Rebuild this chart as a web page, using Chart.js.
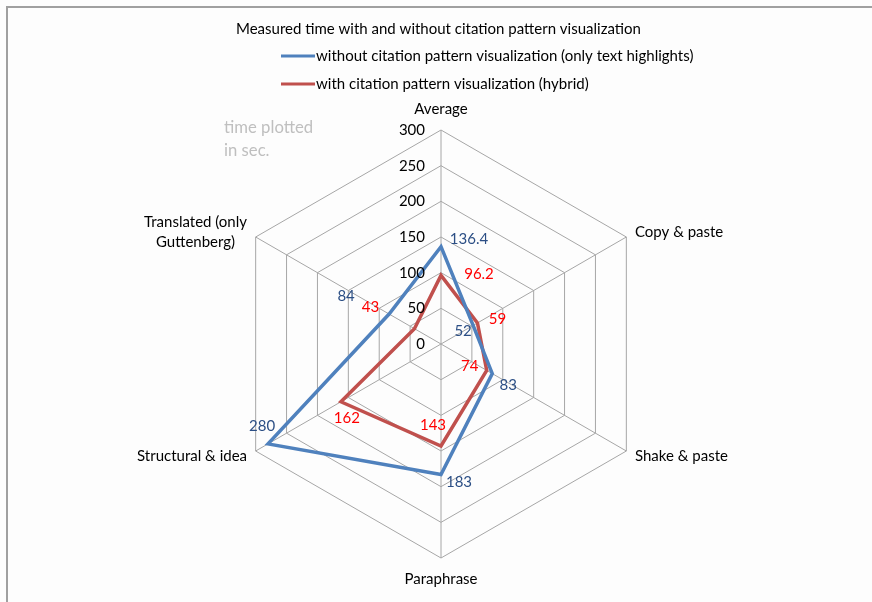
<!DOCTYPE html>
<html>
<head>
<meta charset="utf-8">
<script src="https://cdn.jsdelivr.net/npm/chart.js@4/dist/chart.umd.min.js"></script>
<style>
  html, body { margin: 0; padding: 0; background: #fdfdfd; }
  #wrap { position: relative; width: 872px; height: 602px; }
</style>
</head>
<body>
<div id="wrap"><canvas id="radar" width="872" height="602"></canvas></div>
<script>
// Time per plagiarism category, in seconds
const categories = ['Average', 'Copy & paste', 'Shake & paste', 'Paraphrase', 'Structural & idea', ['Translated (only', 'Guttenberg)']];
const textOnly   = [136.4, 52, 83, 183, 280, 84];
const hybrid     = [96.2, 59, 74, 143, 162, 43];
const scaleTicks = [0, 50, 100, 150, 200, 250, 300];

const chartTitle  = 'Measured time with and without citation pattern visualization';
const seriesNames = [
  'without citation pattern visualization (only text highlights)',
  'with citation pattern visualization (hybrid)',
];
const unitNote = ['time plotted', 'in sec.'];

const FONT = 'Lato, "Open Sans", sans-serif';
const LINE_COLORS  = ['#4f81bd', '#c0504d'];
const LABEL_COLORS = ['#2c4f85', '#ff0000'];

// where each value label sits relative to its point (px)
const labelNudge = [
  [[28, -8], [-10, 6], [16, 12], [18, 8], [-6, -18], [-43, -18]],
  [[38, -1], [20, -4], [-17, -4], [-8, -21], [6, 16], [-44, -22]],
];

const decorations = {
  id: 'decorations',
  beforeDraw(chart) {
    const ctx = chart.ctx;
    ctx.save();
    // outer frame (top + left edges)
    ctx.strokeStyle = '#a0a0a0';
    ctx.lineWidth = 2;
    ctx.beginPath();
    ctx.moveTo(7, 602);
    ctx.lineTo(7, 7);
    ctx.lineTo(872, 7);
    ctx.stroke();

    ctx.font = '15px ' + FONT;
    ctx.fillStyle = '#000';
    ctx.textBaseline = 'middle';
    ctx.textAlign = 'left';
    ctx.fillText(chartTitle, 236, 29);

    // stacked legend
    seriesNames.forEach((name, i) => {
      const y = 56 + i * 28;
      ctx.strokeStyle = LINE_COLORS[i];
      ctx.lineWidth = 3;
      ctx.beginPath();
      ctx.moveTo(281, y);
      ctx.lineTo(315, y);
      ctx.stroke();
      ctx.fillText(name, 316, y);
    });

    ctx.font = '16.7px ' + FONT;
    ctx.fillStyle = '#bfbfbf';
    unitNote.forEach((t, i) => ctx.fillText(t, 224, 128 + i * 23));
    ctx.restore();
  },
  afterDatasetsDraw(chart) {
    const ctx = chart.ctx;
    const r = chart.scales.r;
    ctx.save();
    ctx.font = '15px ' + FONT;
    ctx.textBaseline = 'middle';

    // radial tick values, right-aligned left of the top axis
    ctx.fillStyle = '#000';
    ctx.textAlign = 'right';
    scaleTicks.forEach(v => {
      const p = r.getPointPositionForValue(0, v);
      ctx.fillText(String(v), p.x - 16, p.y);
    });

    // category labels around the web
    categories.forEach((cat, i) => {
      const lines = Array.isArray(cat) ? cat : [cat];
      const angle = r.getIndexAngle(i);
      const sin = Math.sin(angle);
      const vertical = Math.abs(sin) < 0.01;
      const p = r.getPointPosition(i, r.drawingArea + (vertical ? 21 : 10));
      const widest = Math.max(...lines.map(l => ctx.measureText(l).width));
      ctx.textAlign = 'center';
      lines.forEach((line, k) => {
        let x = p.x;
        if (!vertical) x = sin > 0 ? p.x + widest / 2 : p.x - widest / 2;
        const y = p.y + (k - (lines.length - 1) / 2) * 20;
        ctx.fillText(line, x, y);
      });
    });

    // value labels
    chart.data.datasets.forEach((ds, d) => {
      const meta = chart.getDatasetMeta(d);
      ctx.fillStyle = LABEL_COLORS[d];
      ctx.textAlign = 'center';
      meta.data.forEach((pt, i) => {
        const [dx, dy] = labelNudge[d][i];
        ctx.fillText(String(ds.data[i]), pt.x + dx, pt.y + dy);
      });
    });
    ctx.restore();
  },
};

new Chart(document.getElementById('radar'), {
  type: 'radar',
  data: {
    labels: categories,
    datasets: [
      { label: seriesNames[0], data: textOnly },
      { label: seriesNames[1], data: hybrid },
    ].map((ds, i) => ({
      ...ds,
      borderColor: LINE_COLORS[i],
      backgroundColor: 'transparent',
      borderWidth: 3.5,
      pointRadius: 0,
      fill: false,
      tension: 0,
    })),
  },
  options: {
    responsive: false,
    animation: false,
    layout: { padding: { left: 227, right: 217, top: 130, bottom: 44 } },
    plugins: {
      legend: { display: false },
      title: { display: false },
      tooltip: { enabled: false },
    },
    scales: {
      r: {
        min: 0,
        max: 300,
        ticks: { stepSize: 50, display: false },
        pointLabels: { display: false },
        grid: { color: '#a6a6a6', lineWidth: 1 },
        angleLines: { color: '#a6a6a6', lineWidth: 1 },
      },
    },
  },
  plugins: [decorations],
});
</script>
</body>
</html>
